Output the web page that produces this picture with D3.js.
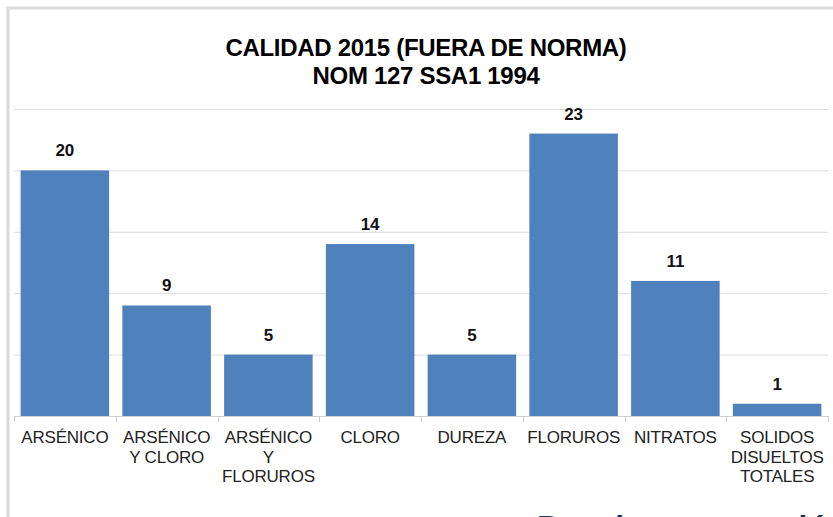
<!DOCTYPE html>
<html lang="es">
<head>
<meta charset="utf-8">
<script src="https://cdn.jsdelivr.net/npm/d3@7"></script>
<style>
  html, body { margin: 0; padding: 0; background: #fff; overflow: hidden; }
  svg { display: block; font-family: "Liberation Sans", Arial, sans-serif; }
</style>
</head>
<body>
<div id="chart"></div>
<script>
// datos
var categories = [
  ["ARSÉNICO"],
  ["ARSÉNICO", "Y CLORO"],
  ["ARSÉNICO", "Y", "FLORUROS"],
  ["CLORO"],
  ["DUREZA"],
  ["FLORUROS"],
  ["NITRATOS"],
  ["SOLIDOS", "DISUELTOS", "TOTALES"]
];
var values = [20, 9, 5, 14, 5, 23, 11, 1];
var yTicks = [0, 5, 10, 15, 20, 25];
var titleLines = ["CALIDAD 2015 (FUERA DE NORMA)", "NOM 127 SSA1 1994"];

var width = 833,
    height = 517,
    margin = {top: 109, bottom: 101, left: 14, right: 5};

var svg = d3.select("#chart").append("svg")
    .attr("width", width)
    .attr("height", height);

// marco gris del grafico
svg.append("path")
    .attr("d", "M8," + (height + 5) + "V8H" + (width + 5))
    .attr("fill", "none")
    .attr("stroke", "#d9d9d9")
    .attr("stroke-width", 3);

var keys = categories.map(function(d) { return d.join(" "); });

var x = d3.scaleBand()
    .domain(keys)
    .range([margin.left, width - margin.right])
    .paddingInner(0.13)
    .paddingOuter(0.065);

var y = d3.scaleLinear()
    .domain([0, 25])
    .range([height - margin.bottom, margin.top]);

// lineas de cuadricula
svg.append("g")
    .selectAll("line")
    .data(yTicks.slice(1))
    .join("line")
    .attr("x1", margin.left)
    .attr("x2", width - margin.right)
    .attr("y1", function(d) { return y(d) + 0.5; })
    .attr("y2", function(d) { return y(d) + 0.5; })
    .attr("stroke", "#dcdcdc")
    .attr("stroke-width", 1);

// barras
svg.append("g")
    .selectAll("rect")
    .data(values)
    .join("rect")
    .attr("x", function(d, i) { return x(keys[i]); })
    .attr("y", function(d) { return y(d); })
    .attr("width", x.bandwidth())
    .attr("height", function(d) { return y(0) - y(d); })
    .attr("fill", "#4f81bd");

// eje x con marcas entre categorias
var y0 = y(0);
var axis = svg.append("g");
axis.append("line")
    .attr("x1", margin.left).attr("x2", width - margin.right)
    .attr("y1", y0 + 0.5).attr("y2", y0 + 0.5)
    .attr("stroke", "#d0d0d0");
var bounds = d3.range(keys.length + 1).map(function(i) {
  return margin.left + i * x.step();
});
axis.selectAll("line.tick")
    .data(bounds)
    .join("line")
    .attr("class", "tick")
    .attr("x1", function(d) { return Math.round(d) + 0.5; })
    .attr("x2", function(d) { return Math.round(d) + 0.5; })
    .attr("y1", y0)
    .attr("y2", y0 + 6)
    .attr("stroke", "#d0d0d0");

// etiquetas de categoria
var lbl = svg.append("g")
    .selectAll("text")
    .data(categories)
    .join("text")
    .attr("text-anchor", "middle")
    .attr("font-size", 17)
    .attr("letter-spacing", -0.2)
    .attr("fill", "#222")
    .attr("transform", function(d, i) {
      return "translate(" + (x(keys[i]) + x.bandwidth() / 2) + "," + (y0 + 27) + ")";
    });
lbl.selectAll("tspan")
    .data(function(d) { return d; })
    .join("tspan")
    .attr("x", 0)
    .attr("y", function(d, j) { return j * 19.5; })
    .text(function(d) { return d; });

// etiquetas de valor
svg.append("g")
    .selectAll("text")
    .data(values)
    .join("text")
    .attr("text-anchor", "middle")
    .attr("font-size", 17)
    .attr("font-weight", "bold")
    .attr("fill", "#111")
    .attr("x", function(d, i) { return x(keys[i]) + x.bandwidth() / 2; })
    .attr("y", function(d) { return y(d) - 14; })
    .text(function(d) { return d; });

// titulo
svg.append("g")
    .selectAll("text")
    .data(titleLines)
    .join("text")
    .attr("x", 426)
    .attr("y", function(d, i) { return 55.5 + i * 28; })
    .attr("text-anchor", "middle")
    .attr("font-size", 24)
    .attr("font-weight", "bold")
    .attr("letter-spacing", -0.3)
    .attr("fill", "#000")
    .text(function(d) { return d; });

// texto de la diapositiva debajo
svg.append("text")
    .attr("x", 537)
    .attr("y", 538)
    .attr("font-size", 32)
    .attr("font-weight", "bold")
    .attr("fill", "#17375e")
    .text("Para la consecución");
</script>
</body>
</html>
